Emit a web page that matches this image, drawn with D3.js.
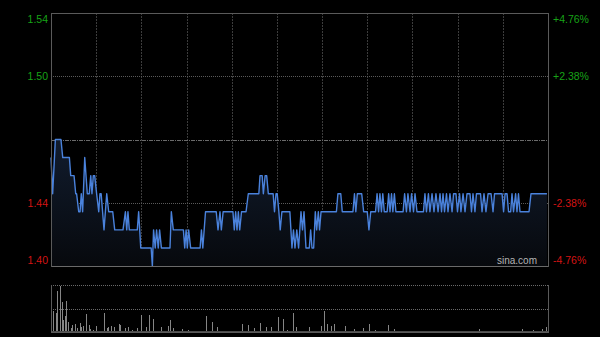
<!DOCTYPE html>
<html>
<head>
<meta charset="utf-8">
<script src="https://cdn.jsdelivr.net/npm/d3@7"></script>
<style>
body { margin: 0; background: #000; }
text { font-family: Arial, "Liberation Sans", sans-serif; }
</style>
</head>
<body>
<div id="chart"></div>
<script>
// price line: [minute of session, price]
var priceLine = [
    [0,1.46],[1.1,1.44],[2.9,1.47],[6.6,1.47],[7.8,1.46],[12.2,1.46],[13.1,1.45],[15.3,1.45],[16.4,1.44],[17,1.44],
    [18.4,1.43],[19.3,1.43],[20.1,1.44],[21,1.43],[22.4,1.46],[24.1,1.44],[25.4,1.44],[26.4,1.45],[27.2,1.44],[28.1,1.45],
    [29,1.45],[30.3,1.44],[31.7,1.43],[32.5,1.44],[33.3,1.44],[35.2,1.42],[37,1.44],[38.3,1.43],[41,1.43],[42.3,1.42],
    [47.8,1.42],[49.4,1.43],[50.3,1.42],[51.1,1.43],[52,1.42],[57.3,1.42],[58.2,1.43],[59.6,1.41],[66.5,1.41],
    [67.3,1.40],[68.1,1.42],[69.2,1.41],[70.1,1.42],[71.2,1.41],[72.1,1.42],[73.3,1.41],[79,1.41],[79.9,1.43],[81.2,1.42],
    [87.9,1.42],[88.8,1.41],[89.7,1.42],[90.5,1.41],[91.4,1.42],[92.7,1.41],[99,1.41],[99.9,1.42],[100.8,1.41],[102.6,1.43],
    [109.7,1.43],[110.9,1.42],[112.2,1.43],[113.1,1.42],[114.3,1.43],[120.8,1.43],[121.7,1.42],[122.6,1.43],[123.5,1.42],
    [124.4,1.43],[125.3,1.42],[126.5,1.43],[129.5,1.43],[131,1.44],
    [138,1.44],[138.8,1.45],[140.2,1.45],[141,1.44],[142.2,1.45],[143.2,1.45],[144.3,1.44],[147.5,1.44],[148.4,1.43],
    [149.4,1.44],[150.2,1.44],[151.3,1.43],[152.2,1.42],[153.3,1.43],[158.6,1.43],[160,1.41],[161,1.42],[162,1.41],
    [163.2,1.42],[164.4,1.41],[166,1.43],[167,1.42],[168,1.43],[169.3,1.41],[171.5,1.41],[172.4,1.42],[173.3,1.41],
    [174.4,1.41],[175.5,1.43],[176.4,1.42],[177.5,1.43],[178.3,1.42],[179.3,1.43],[189.5,1.43],[190.5,1.44],[192.4,1.44],
    [193.4,1.43],
    [200.5,1.43],[201.5,1.44],[202.4,1.43],[203.4,1.44],[206.3,1.44],[207.6,1.43],[210,1.43],[211.1,1.42],[212.3,1.43],
    [215.5,1.43],[216.5,1.44],[217.5,1.43],[218.4,1.44],[219.4,1.43],[220.3,1.44],[221.3,1.43],[223.2,1.43],[224.2,1.44],
    [225.1,1.43],[226.1,1.44],[227,1.43],[228,1.44],[229,1.43],[233.8,1.43],[234.8,1.44],
    [236,1.43],[237,1.44],[238.4,1.43],[239.4,1.44],[240.7,1.43],[241.7,1.44],[243,1.43],[247.3,1.43],[248.3,1.44],
    [249.3,1.43],[250.6,1.44],[251.6,1.43],[253,1.44],[254.3,1.43],[255.6,1.44],[257,1.43],[258.3,1.44],[259.3,1.43],
    [260.3,1.44],[261.3,1.43],[262.6,1.44],[263.6,1.43],[264.9,1.44],[266.3,1.43],[267.3,1.44],[268.9,1.44],[269.9,1.43],
    [271.3,1.44],[272.2,1.43],[273.6,1.44],[274.9,1.43],[276.2,1.44],[278.2,1.44],[279.2,1.43],[280.2,1.44],[281.5,1.43],
    [282.5,1.44],[285.2,1.44],[286.2,1.43],[287.5,1.44],[288.8,1.43],[290.2,1.44],[292.2,1.44],[293.5,1.43],[294.5,1.44],
    [299.5,1.44],[300.5,1.43],[301.5,1.44],[302.8,1.44],[303.8,1.43],[305.2,1.43],[306.1,1.44],[307.1,1.43],[308.5,1.44],
    [309.4,1.43],[310.4,1.44],[311.4,1.43],[317.4,1.43],[318.7,1.44],[329.3,1.44]
];

// volume bars: [minute of session, relative volume]
var volumeBars = [
    [0,100],[1,45],[3,40],[4,88],[6,98],[7,64],[8,26],[9,33],[10,67],[11,22],[13,8],[14,15],[16,18],[17,8],
    [19,20],[20,11],[21,13],[23,38],[25,15],[26,6],[28,4],[30,13],[33,3],[35,41],[37,8],[38,10],[40,13],
    [42,10],[45,17],[46,15],[49,8],[51,10],[54,4],[57,8],[60,36],[63,10],[65,36],[68,27],[73,10],[78,13],
    [79,26],[81,8],[87,6],[91,4],[97,3],[103,34],[107,22],[110,10],[121,3],[127,17],[131,15],[135,8],[139,20],
    [143,10],[146,11],[151,31],[154,27],[157,4],[161,40],[163,10],[171,10],[179,13],[181,45],[183,17],[186,13],
    [188,17],[195,13],[201,6],[207,8],[211,17],[215,4],[224,15],[228,6],[251,3],[284,6],[297,3],[313,7],
    [320,4],[326,6],[329,10]
];

var prevClose = 1.47;
var priceTicks = [1.54, 1.505, 1.435, 1.40];
var priceLabels = ["1.54", "1.50", "1.44", "1.40"];
var pctLabels = ["+4.76%", "+2.38%", "-2.38%", "-4.76%"];

var svgWidth = 600;
var svgHeight = 337;
var box = {left: 51, right: 548, top: 13, bottom: 266};
var volBox = {top: 285, bottom: 332};

var svg = d3.select("#chart")
    .append("svg")
    .attr("width", svgWidth)
    .attr("height", svgHeight)
    .style("display", "block")
    .style("background", "#000");

var xScale = d3.scaleLinear().domain([0, 330]).range([box.left, box.right]);
var yScale = d3.scaleLinear().domain([1.40, 1.54]).range([box.bottom, box.top]);
var vScale = d3.scaleLinear().domain([0, 100]).range([volBox.bottom, volBox.top]);

function px(v) { return Math.round(v) + 0.5; }

// gradient under the price line
var grad = svg.append("defs").append("linearGradient")
    .attr("id", "areaFill")
    .attr("x1", 0).attr("y1", 0).attr("x2", 0).attr("y2", 1);
grad.append("stop").attr("offset", "0%").attr("stop-color", "#111c2e");
grad.append("stop").attr("offset", "100%").attr("stop-color", "#07090d");

// vertical grid, every half hour
svg.append("g").selectAll("line")
    .data(d3.range(30, 330, 30))
    .enter()
    .append("line")
    .attr("x1", d => px(xScale(d)))
    .attr("x2", d => px(xScale(d)))
    .attr("y1", box.top)
    .attr("y2", box.bottom)
    .attr("stroke", "#3c3c3c")
    .attr("stroke-dasharray", "2,1");

// horizontal grid
svg.append("g").selectAll("line")
    .data([priceTicks[1], priceTicks[2]])
    .enter()
    .append("line")
    .attr("x1", box.left)
    .attr("x2", box.right)
    .attr("y1", d => px(yScale(d)))
    .attr("y2", d => px(yScale(d)))
    .attr("stroke", "#5a5a5a")
    .attr("stroke-dasharray", "1,1");

// previous close line
svg.append("line")
    .attr("x1", box.left)
    .attr("x2", box.right)
    .attr("y1", px(yScale(prevClose)))
    .attr("y2", px(yScale(prevClose)))
    .attr("stroke", "#6a6a6a")
    .attr("stroke-dasharray", "4,1,1,1");

// area + line
var area = d3.area()
    .x(d => xScale(d[0]))
    .y0(box.bottom)
    .y1(d => yScale(d[1]));

var line = d3.line()
    .x(d => xScale(d[0]))
    .y(d => yScale(d[1]));

svg.append("path")
    .datum(priceLine)
    .attr("d", area)
    .attr("fill", "url(#areaFill)");

svg.append("path")
    .datum(priceLine)
    .attr("d", line)
    .attr("fill", "none")
    .attr("stroke", "#4a82dc")
    .attr("stroke-width", 1.4)
    .attr("stroke-linejoin", "round");

// frame
svg.append("line").attr("x1", box.left).attr("x2", box.right).attr("y1", px(box.top)).attr("y2", px(box.top)).attr("stroke", "#5a5a5a");
svg.append("line").attr("x1", box.left).attr("x2", box.right).attr("y1", px(box.bottom)).attr("y2", px(box.bottom)).attr("stroke", "#6a6a6a");
svg.append("line").attr("x1", px(box.left)).attr("x2", px(box.left)).attr("y1", box.top).attr("y2", box.bottom + 1).attr("stroke", "#5a5a5a");
svg.append("line").attr("x1", px(box.right)).attr("x2", px(box.right)).attr("y1", box.top).attr("y2", box.bottom + 1).attr("stroke", "#5a5a5a");

// price labels
function labelY(t) {
    return Math.min(Math.max(yScale(t), box.top + 6), box.bottom - 6);
}
function labelColor(t) {
    return t > prevClose ? "#17a317" : "#d41414";
}

svg.append("g").selectAll("text")
    .data(priceTicks)
    .enter()
    .append("text")
    .attr("x", 48)
    .attr("y", d => labelY(d))
    .attr("dy", "0.36em")
    .attr("text-anchor", "end")
    .attr("font-size", 10.5)
    .attr("fill", d => labelColor(d))
    .text((d, i) => priceLabels[i]);

svg.append("g").selectAll("text")
    .data(priceTicks)
    .enter()
    .append("text")
    .attr("x", 553)
    .attr("y", d => labelY(d))
    .attr("dy", "0.36em")
    .attr("text-anchor", "start")
    .attr("font-size", 10.5)
    .attr("fill", d => labelColor(d))
    .text((d, i) => pctLabels[i]);

// watermark
svg.append("text")
    .attr("x", 537)
    .attr("y", 260)
    .attr("dy", "0.36em")
    .attr("text-anchor", "end")
    .attr("font-size", 10)
    .attr("fill", "#b4b4b4")
    .text("sina.com");

// volume panel
svg.append("g").selectAll("line")
    .data([volBox.top, (volBox.top + volBox.bottom) / 2])
    .enter()
    .append("line")
    .attr("x1", box.left)
    .attr("x2", box.right)
    .attr("y1", d => px(d))
    .attr("y2", d => px(d))
    .attr("stroke", "#6a6a6a")
    .attr("stroke-dasharray", "1,1");

svg.append("g").selectAll("rect")
    .data(volumeBars)
    .enter()
    .append("rect")
    .attr("x", d => Math.round(xScale(d[0])))
    .attr("y", d => Math.round(vScale(d[1])))
    .attr("width", 1)
    .attr("height", d => volBox.bottom - Math.round(vScale(d[1])))
    .attr("fill", "#858585");

svg.append("line").attr("x1", box.left).attr("x2", box.right).attr("y1", px(volBox.bottom - 1)).attr("y2", px(volBox.bottom - 1)).attr("stroke", "#4a4a4a");
svg.append("line").attr("x1", box.left).attr("x2", box.right).attr("y1", px(volBox.bottom)).attr("y2", px(volBox.bottom)).attr("stroke", "#5a5a5a");
svg.append("line").attr("x1", px(box.left)).attr("x2", px(box.left)).attr("y1", volBox.top).attr("y2", volBox.bottom + 1).attr("stroke", "#5a5a5a");
svg.append("line").attr("x1", px(box.right)).attr("x2", px(box.right)).attr("y1", volBox.top).attr("y2", volBox.bottom + 1).attr("stroke", "#5a5a5a");
</script>
</body>
</html>
